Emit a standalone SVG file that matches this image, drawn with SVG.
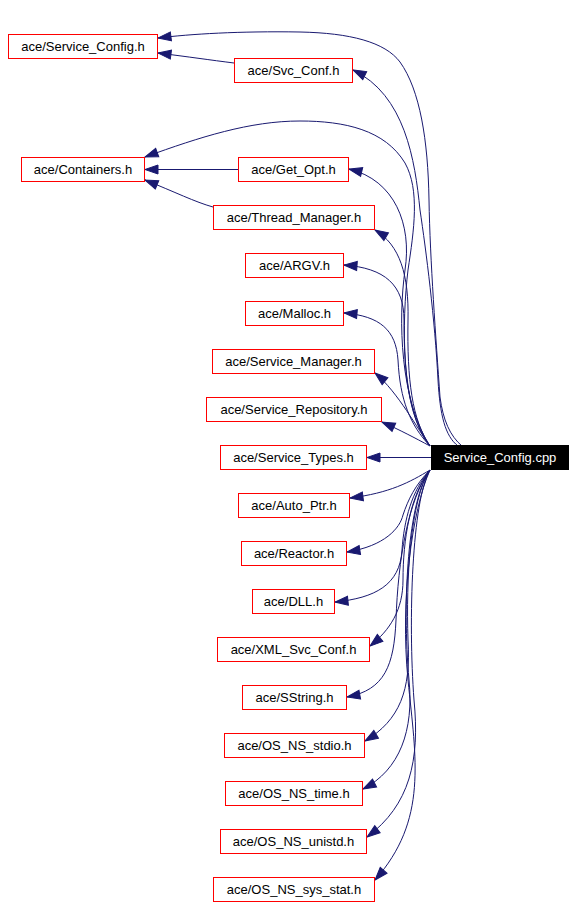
<svg xmlns="http://www.w3.org/2000/svg" width="575" height="908" viewBox="0 0 575 908">
<style>
.n rect{fill:#fff;stroke:#f00;stroke-width:1}
.n text{font-family:"Liberation Sans",Arial,sans-serif;font-size:13px;fill:#000;text-anchor:middle}
.s rect{fill:#000;stroke:#000}
.s text{fill:#fff}
.e path{fill:none;stroke:#191970;stroke-width:1;marker-end:url(#ah)}
</style>
<defs>
<marker id="ah" markerUnits="userSpaceOnUse" markerWidth="14" markerHeight="10" refX="13" refY="4.5" orient="auto" overflow="visible">
<path d="M0,0 L13,4.5 L0,9 z" fill="#191970" stroke="#191970" stroke-width="1"/>
</marker>
</defs>
<rect width="575" height="908" fill="#fff"/>
<g id="edges" class="e">
<path d="M462,446 C450,436 443,420 440,397 C436,340 430,260 429,200 C428,140 420,90 400,62 C385,42 350,33 300,32 C240,31 190,34 158,38"/>
<path d="M234,63 C210,60 190,57 158,53"/>
<path d="M458,446 C445,436 440,415 438,380 C435,320 426,250 420,210 C415,160 405,95 353,70"/>
<path d="M430,446 C400,410 402,320 408,270 C414,230 420,190 405,163 C385,130 345,121 300,121 C250,121 200,137 145,157"/>
<path d="M238,169.5 L145,169.5"/>
<path d="M213,207 C195,202 175,192 145,180"/>
<path d="M430,446 C400,400 398,320 405,270 C412,225 395,180 349,169"/>
<path d="M430,446 C412,420 407,380 408,320 C409,275 400,245 375,230"/>
<path d="M430,446 C410,420 404,380 404,320 C404,285 385,268 344,265"/>
<path d="M430,446 C410,425 400,400 398,360 C396,330 380,316 344,313"/>
<path d="M430,446 C418,430 398,392 375,373"/>
<path d="M430,446 C415,438 400,430 382,422"/>
<path d="M431,457.5 L367,457.5"/>
<path d="M430,470 C410,482 390,493 350,498"/>
<path d="M430,470 C415,485 408,500 403,515 C400,528 385,546 347,552"/>
<path d="M430,470 C412,490 404,520 402,550 C400,585 375,598 335,602"/>
<path d="M430,470 C410,495 403,540 403,580 C403,610 390,630 370,646"/>
<path d="M430,470 C408,500 398,560 396,620 C394,665 385,690 347,697"/>
<path d="M430,470 C410,500 406,580 408,640 C411,690 400,720 365,741"/>
<path d="M430,470 C408,500 402,600 409,680 C414,730 400,770 363,789"/>
<path d="M430,470 C412,500 408,620 414,700 C420,760 410,805 367,837"/>
<path d="M430,470 C412,510 400,600 408,680 C416,760 428,820 375,880"/>
</g>
<g id="n_service_config_h" class="n"><rect x="8.5" y="34.5" width="149" height="24"/><text x="83" y="51">ace/Service_Config.h</text></g>
<g id="n_svc_conf_h" class="n"><rect x="234.5" y="58.5" width="118" height="24"/><text x="293.5" y="75">ace/Svc_Conf.h</text></g>
<g id="n_containers_h" class="n"><rect x="21.5" y="157.5" width="123" height="24"/><text x="83" y="174">ace/Containers.h</text></g>
<g id="n_get_opt_h" class="n"><rect x="238.5" y="157.5" width="110" height="24"/><text x="293.5" y="174">ace/Get_Opt.h</text></g>
<g id="n_thread_manager_h" class="n"><rect x="213.5" y="205.5" width="161" height="24"/><text x="294" y="222">ace/Thread_Manager.h</text></g>
<g id="n_argv_h" class="n"><rect x="245.5" y="253.5" width="98" height="24"/><text x="294.5" y="270">ace/ARGV.h</text></g>
<g id="n_malloc_h" class="n"><rect x="245.5" y="301.5" width="98" height="24"/><text x="294.5" y="318">ace/Malloc.h</text></g>
<g id="n_service_manager_h" class="n"><rect x="212.5" y="349.5" width="162" height="24"/><text x="293.5" y="366">ace/Service_Manager.h</text></g>
<g id="n_service_repository_h" class="n"><rect x="206.5" y="397.5" width="175" height="24"/><text x="294" y="414">ace/Service_Repository.h</text></g>
<g id="n_service_types_h" class="n"><rect x="220.5" y="445.5" width="146" height="24"/><text x="293.5" y="462">ace/Service_Types.h</text></g>
<g id="n_service_config_cpp" class="n s"><rect x="431.5" y="445.5" width="137" height="24"/><text x="500" y="462">Service_Config.cpp</text></g>
<g id="n_auto_ptr_h" class="n"><rect x="238.5" y="493.5" width="111" height="24"/><text x="294" y="510">ace/Auto_Ptr.h</text></g>
<g id="n_reactor_h" class="n"><rect x="241.5" y="541.5" width="105" height="24"/><text x="294" y="558">ace/Reactor.h</text></g>
<g id="n_dll_h" class="n"><rect x="252.5" y="589.5" width="82" height="24"/><text x="293.5" y="606">ace/DLL.h</text></g>
<g id="n_xml_svc_conf_h" class="n"><rect x="217.5" y="637.5" width="152" height="24"/><text x="293.5" y="654">ace/XML_Svc_Conf.h</text></g>
<g id="n_sstring_h" class="n"><rect x="242.5" y="685.5" width="104" height="24"/><text x="294.5" y="702">ace/SString.h</text></g>
<g id="n_os_ns_stdio_h" class="n"><rect x="224.5" y="733.5" width="140" height="24"/><text x="294.5" y="750">ace/OS_NS_stdio.h</text></g>
<g id="n_os_ns_time_h" class="n"><rect x="225.5" y="781.5" width="137" height="24"/><text x="294" y="798">ace/OS_NS_time.h</text></g>
<g id="n_os_ns_unistd_h" class="n"><rect x="220.5" y="829.5" width="146" height="24"/><text x="293.5" y="846">ace/OS_NS_unistd.h</text></g>
<g id="n_os_ns_sys_stat_h" class="n"><rect x="213.5" y="877.5" width="161" height="24"/><text x="294" y="894">ace/OS_NS_sys_stat.h</text></g>
</svg>
